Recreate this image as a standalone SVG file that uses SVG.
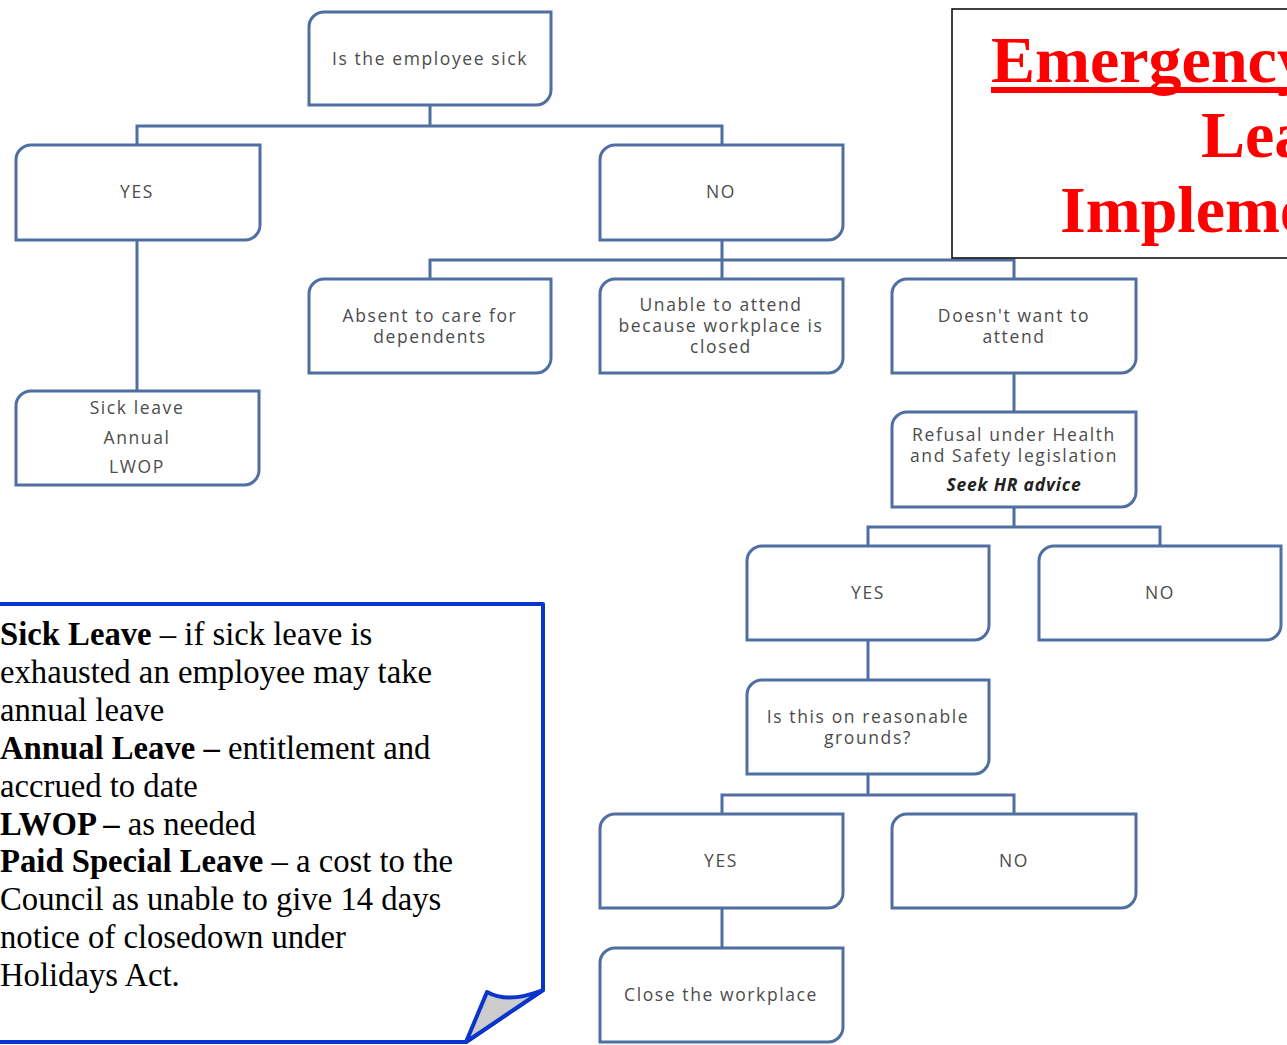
<svg xmlns="http://www.w3.org/2000/svg" width="1287" height="1045" viewBox="0 0 1287 1045">
<style>
.box{fill:#ffffff;stroke:#4f6ea2;stroke-width:3}
.conn{fill:none;stroke:#4f6ea2;stroke-width:3}
.t{font-family:"Open Sans","DejaVu Sans",sans-serif;font-size:17.5px;letter-spacing:1.6px;fill:#4c4c4c;text-anchor:middle;dominant-baseline:central}
.bi{font-weight:bold;font-style:italic;fill:#222;letter-spacing:0.8px}
.note{font-family:"Liberation Serif","Times New Roman",serif;font-size:32.7px;fill:#000}
.b{font-weight:bold}
.title{font-family:"Liberation Serif","Times New Roman",serif;font-size:66px;font-weight:bold;fill:#ff0000}
</style>
<rect width="1287" height="1045" fill="#ffffff"/>
<g id="connectors">
<path class="conn" d="M430,105 V126 M137,145 V126 H722 V145"/>
<path class="conn" d="M137,240 V391"/>
<path class="conn" d="M722,240 V260 M430,279 V260 H1014 V279 M722,260 V279"/>
<path class="conn" d="M1014,373 V412"/>
<path class="conn" d="M1014,507 V527 M868,546 V527 H1160 V546"/>
<path class="conn" d="M868,640 V680"/>
<path class="conn" d="M868,774 V795 M722,814 V795 H1014 V814"/>
<path class="conn" d="M722,908 V948"/>
</g>
<g id="n-sick">
<path class="box" d="M324,12 H551 V90 A15,15 0 0 1 536,105 H309 V27 A15,15 0 0 1 324,12 Z"/>
<text class="t" x="430" y="58">Is the employee sick</text>
</g>
<g id="n-yes1">
<path class="box" d="M31,145 H260 V225 A15,15 0 0 1 245,240 H16 V160 A15,15 0 0 1 31,145 Z"/>
<text class="t" x="137" y="191">YES</text>
</g>
<g id="n-no1">
<path class="box" d="M615,145 H843 V225 A15,15 0 0 1 828,240 H600 V160 A15,15 0 0 1 615,145 Z"/>
<text class="t" x="721" y="191">NO</text>
</g>
<g id="n-absent">
<path class="box" d="M324,279 H551 V358 A15,15 0 0 1 536,373 H309 V294 A15,15 0 0 1 324,279 Z"/>
<text class="t" x="430" y="315">Absent to care for<tspan x="430" dy="21">dependents</tspan></text>
</g>
<g id="n-unable">
<path class="box" d="M615,279 H843 V358 A15,15 0 0 1 828,373 H600 V294 A15,15 0 0 1 615,279 Z"/>
<text class="t" x="721" y="304">Unable to attend<tspan x="721" dy="21">because workplace is</tspan><tspan x="721" dy="21">closed</tspan></text>
</g>
<g id="n-doesnt">
<path class="box" d="M907,279 H1136 V358 A15,15 0 0 1 1121,373 H892 V294 A15,15 0 0 1 907,279 Z"/>
<text class="t" x="1014" y="315">Doesn't want to<tspan x="1014" dy="21">attend</tspan></text>
</g>
<g id="n-leave">
<path class="box" d="M31,391 H259 V470 A15,15 0 0 1 244,485 H16 V406 A15,15 0 0 1 31,391 Z"/>
<text class="t" x="137" y="407">Sick leave<tspan x="137" dy="30">Annual</tspan><tspan x="137" dy="29">LWOP</tspan></text>
</g>
<g id="n-refusal">
<path class="box" d="M907,412 H1136 V492 A15,15 0 0 1 1121,507 H892 V427 A15,15 0 0 1 907,412 Z"/>
<text class="t" x="1014" y="434">Refusal under Health<tspan x="1014" dy="21">and Safety legislation</tspan><tspan class="bi" x="1014" dy="29">Seek HR advice</tspan></text>
</g>
<g id="n-yes2">
<path class="box" d="M762,546 H989 V625 A15,15 0 0 1 974,640 H747 V561 A15,15 0 0 1 762,546 Z"/>
<text class="t" x="868" y="592">YES</text>
</g>
<g id="n-no2">
<path class="box" d="M1054,546 H1281 V625 A15,15 0 0 1 1266,640 H1039 V561 A15,15 0 0 1 1054,546 Z"/>
<text class="t" x="1160" y="592">NO</text>
</g>
<g id="n-reasonable">
<path class="box" d="M762,680 H989 V759 A15,15 0 0 1 974,774 H747 V695 A15,15 0 0 1 762,680 Z"/>
<text class="t" x="868" y="716">Is this on reasonable<tspan x="868" dy="21">grounds?</tspan></text>
</g>
<g id="n-yes3">
<path class="box" d="M615,814 H843 V893 A15,15 0 0 1 828,908 H600 V829 A15,15 0 0 1 615,814 Z"/>
<text class="t" x="721" y="860">YES</text>
</g>
<g id="n-no3">
<path class="box" d="M907,814 H1136 V893 A15,15 0 0 1 1121,908 H892 V829 A15,15 0 0 1 907,814 Z"/>
<text class="t" x="1014" y="860">NO</text>
</g>
<g id="n-close">
<path class="box" d="M615,948 H843 V1027 A15,15 0 0 1 828,1042 H600 V963 A15,15 0 0 1 615,948 Z"/>
<text class="t" x="721" y="994">Close the workplace</text>
</g>
<g id="note">
<path d="M-5,604 H543 V990 L466,1042 H-5" fill="#ffffff" stroke="#0a34cc" stroke-width="4" stroke-linejoin="round"/>
<path d="M487,992 Q508,1004 543,990 L466,1042 Z" fill="#cccccc" stroke="#0a34cc" stroke-width="4" stroke-linejoin="round"/>
<text class="note" x="0" y="645"><tspan class="b">Sick Leave</tspan> – if sick leave is</text>
<text class="note" x="0" y="683">exhausted an employee may take</text>
<text class="note" x="0" y="721">annual leave</text>
<text class="note" x="0" y="759"><tspan class="b">Annual Leave –</tspan> entitlement and</text>
<text class="note" x="0" y="797">accrued to date</text>
<text class="note" x="0" y="835"><tspan class="b">LWOP –</tspan> as needed</text>
<text class="note" x="0" y="872"><tspan class="b">Paid Special Leave</tspan> – a cost to the</text>
<text class="note" x="0" y="910">Council as unable to give 14 days</text>
<text class="note" x="0" y="948">notice of closedown under</text>
<text class="note" x="0" y="986">Holidays Act.</text>
</g>
<g id="title">
<rect x="952" y="9" width="340" height="249" fill="#ffffff" stroke="#000000" stroke-width="1.5"/>
<text class="title" x="991" y="82">Emergency</text>
<rect x="991" y="87" width="300" height="6" fill="#ff0000"/>
<text class="title" x="1201" y="157">Leave</text>
<text class="title" x="1060" y="232">Implementation</text>
</g>
</svg>
